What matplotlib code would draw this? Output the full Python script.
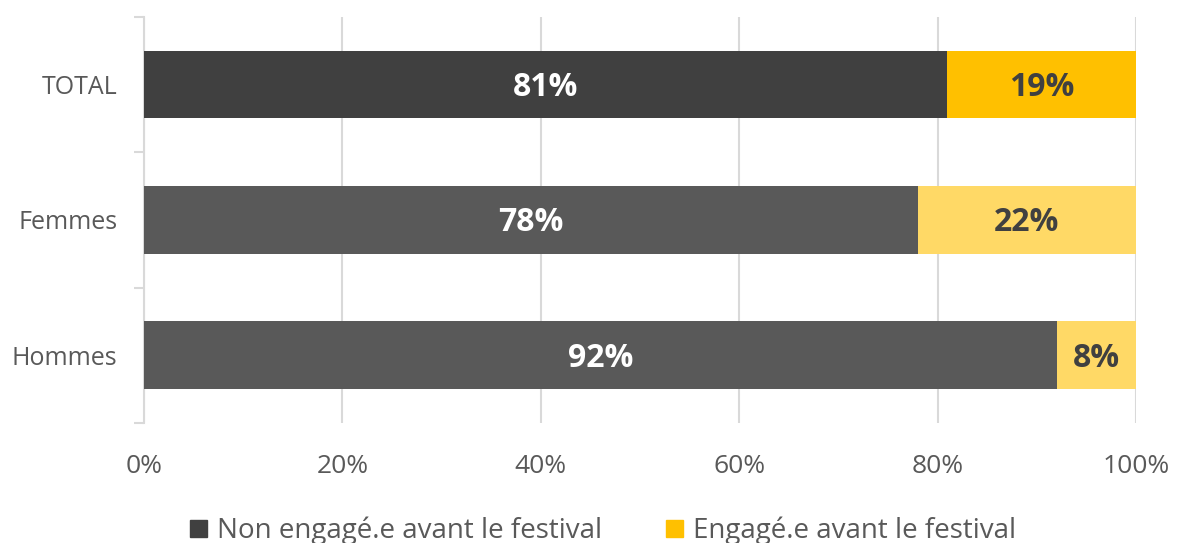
import matplotlib.pyplot as plt

plt.rcParams['font.family'] = ['Open Sans', 'DejaVu Sans']

categories = ['TOTAL', 'Femmes', 'Hommes']
non_engage = [81, 78, 92]
engage = [19, 22, 8]
x_ticks = [0, 20, 40, 60, 80, 100]
x_labels = ['0%', '20%', '40%', '60%', '80%', '100%']

dark = ['#404040', '#595959', '#595959']
yellow = ['#FFC000', '#FFD966', '#FFD966']
grid_c = '#D9D9D9'
txt_c = '#595959'

fig = plt.figure(figsize=(11.78, 5.43), dpi=100)
ax = fig.add_axes([0.1222, 0.221, 0.8421, 0.7477])

pos = list(range(len(categories)))
ax.barh(pos, non_engage, height=0.5, color=dark, zorder=3)
ax.barh(pos, engage, left=non_engage, height=0.5, color=yellow, zorder=3)

for i in pos:
    ax.text(non_engage[i] / 2, i + 0.02, f'{non_engage[i]}%', ha='center', va='center',
            color='white', fontsize=23, fontweight='bold', zorder=4)
    ax.text(non_engage[i] + engage[i] / 2, i + 0.02, f'{engage[i]}%', ha='center', va='center',
            color='#404040', fontsize=23, fontweight='bold', zorder=4)

ax.set_xlim(0, 100)
ax.set_ylim(2.5, -0.5)
ax.set_xticks(x_ticks)
ax.set_xticklabels(x_labels)
ax.tick_params(axis='x', length=0, labelsize=19, labelcolor=txt_c, pad=22)
ax.xaxis.grid(True, color=grid_c, linewidth=1.5, zorder=0)

# category boundaries carry the tick marks, labels sit between them
ax.set_yticks([-0.5, 0.5, 1.5, 2.5])
ax.set_yticklabels([])
ax.tick_params(axis='y', which='major', length=7, width=1.5, color=grid_c)
ax.set_yticks(pos, minor=True)
ax.set_yticklabels(categories, minor=True)
ax.tick_params(axis='y', which='minor', length=0, labelsize=18, labelcolor=txt_c, pad=19)

for side in ['top', 'right', 'bottom']:
    ax.spines[side].set_visible(False)
ax.spines['left'].set_color(grid_c)
ax.spines['left'].set_linewidth(1.5)

handles = [plt.Rectangle((0, 0), 1, 1, color='#404040'),
           plt.Rectangle((0, 0), 1, 1, color='#FFC000')]
fig.legend(handles, ['Non engagé.e avant le festival', 'Engagé.e avant le festival'],
           loc='center', bbox_to_anchor=(0.512, 0.022), ncol=2, frameon=False,
           fontsize=20, labelcolor=txt_c, handlelength=0.6, handleheight=0.6,
           handletextpad=0.36, columnspacing=2.3, borderpad=0)

fig.savefig('out.png', dpi=100)
